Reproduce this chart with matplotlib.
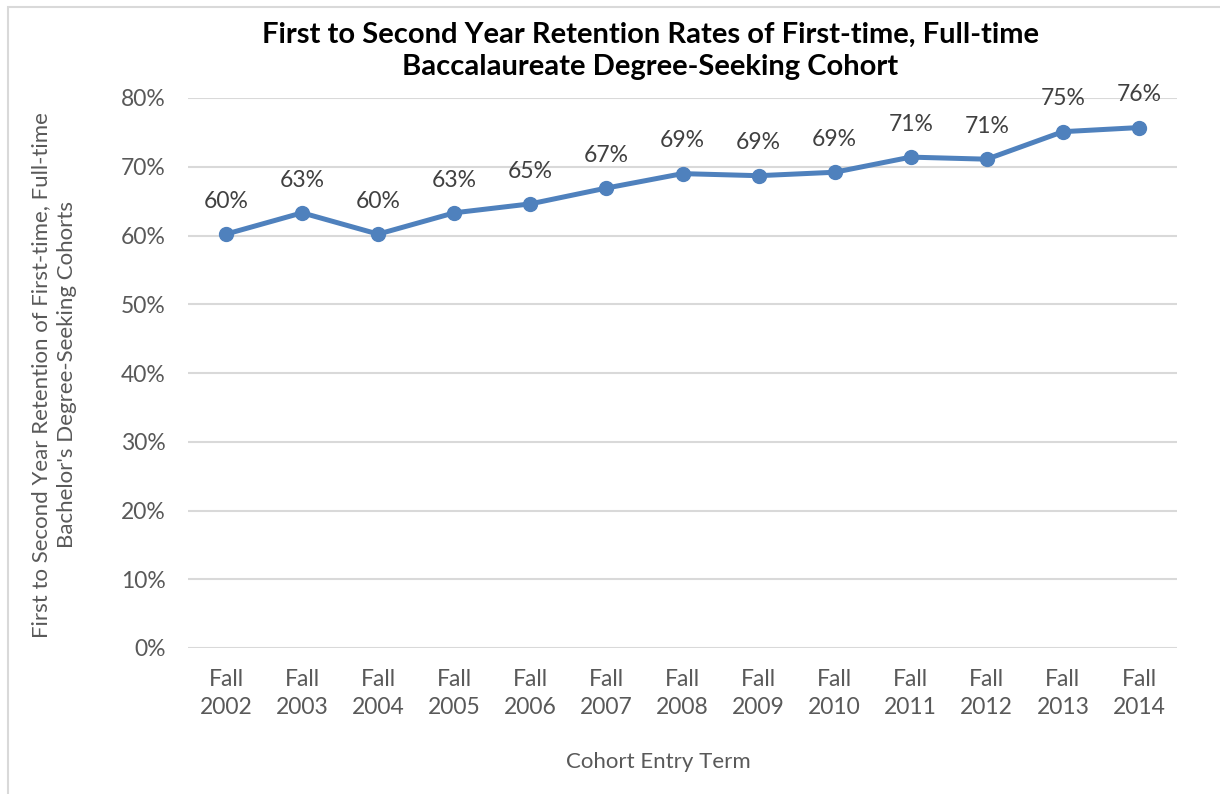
import matplotlib
matplotlib.use("Agg")
import matplotlib.pyplot as plt
from matplotlib.patches import Rectangle
from matplotlib.ticker import FuncFormatter

categories = ["Fall\n2002", "Fall\n2003", "Fall\n2004", "Fall\n2005", "Fall\n2006",
              "Fall\n2007", "Fall\n2008", "Fall\n2009", "Fall\n2010", "Fall\n2011",
              "Fall\n2012", "Fall\n2013", "Fall\n2014"]
retention = [60.2, 63.3, 60.2, 63.3, 64.6, 66.9, 69.0, 68.7, 69.2, 71.4, 71.1, 75.1, 75.7]
yticks = [0, 10, 20, 30, 40, 50, 60, 70, 80]

plt.rcParams['font.family'] = ['Lato', 'DejaVu Sans']

fig = plt.figure(figsize=(12.2, 7.94), dpi=100)
ax = fig.add_axes([188/1220, 1-648/794, (1177-188)/1220, (648-98)/794])

x = list(range(len(categories)))
ax.plot(x, retention, color='#4f81bd', lw=3.6, marker='o', ms=10, zorder=3,
        solid_capstyle='round')
for xi, v in zip(x, retention):
    ax.annotate(f"{round(v):.0f}%", (xi, v), xytext=(0, 16), textcoords='offset points',
                ha='center', va='bottom', fontsize=16.5, color='#404040')

ax.set_xlim(-0.5, len(categories) - 0.5)
ax.set_ylim(0, 80)
ax.set_yticks(yticks)
ax.yaxis.set_major_formatter(FuncFormatter(lambda v, p: f"{v:.0f}%"))
ax.set_xticks(x)
ax.set_xticklabels(categories, linespacing=1.4)
ax.tick_params(axis='both', length=0, labelsize=16.5, labelcolor='#595959')
ax.tick_params(axis='x', pad=15)
ax.tick_params(axis='y', pad=16)
ax.grid(axis='y', color='#d9d9d9', lw=1.5)
ax.set_axisbelow(True)
for s in ax.spines.values():
    s.set_visible(False)

fig.text(658/1220, 1-762/794, "Cohort Entry Term", ha='center', va='center',
         fontsize=16, color='#595959')
fig.text(54/1220, 1-375/794,
         "First to Second Year Retention of First-time, Full-time\nBachelor's Degree-Seeking Cohorts",
         ha='center', va='center', rotation=90, fontsize=16, color='#595959',
         linespacing=1.35, multialignment='center')

fig.text(650/1220, 1-51/794, "First to Second Year Retention Rates of First-time, Full-time\nBaccalaureate Degree-Seeking Cohort",
         ha='center', va='center', fontsize=21, fontweight='bold', color='black', linespacing=1.3)

fig.patches.append(Rectangle((8/1220, -0.01), 1.2, 1-7/794+0.01, transform=fig.transFigure,
                             fill=False, edgecolor='#d9d9d9', lw=1.5))

fig.savefig("out.png", dpi=100)
